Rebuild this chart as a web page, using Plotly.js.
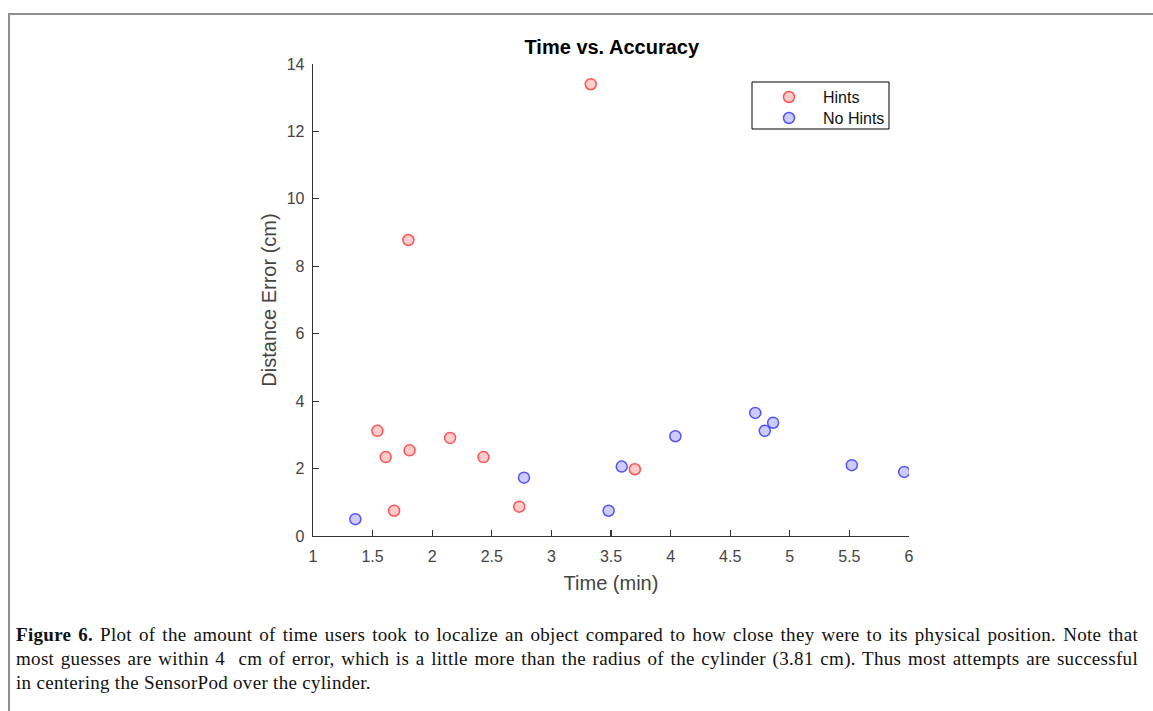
<!DOCTYPE html>
<html>
<head>
<meta charset="utf-8">
<script src="https://cdn.plot.ly/plotly-3.0.1.min.js"></script>
<style>
  html, body { margin: 0; padding: 0; background: #fff; width: 1153px; height: 711px; overflow: hidden; }
  #frame { position: absolute; left: 8px; top: 13px; width: 1200px; height: 800px;
           border-top: 2px solid #8f8f8f; border-left: 2px solid #8f8f8f; box-sizing: border-box; }
  #chart { position: absolute; left: 0; top: 0; width: 1153px; height: 711px; }
  #caption { position: absolute; left: 16px; top: 623px; width: 1122px;
             font-family: "Liberation Serif", "Times New Roman", serif; font-size: 19px; letter-spacing: 0.3px; color: #111; line-height: 24px; }
  #caption .j { text-align: justify; text-align-last: justify; white-space: nowrap; }
  #caption .l { text-align: left; white-space: nowrap; }
</style>
</head>
<body>
<div id="frame"></div>
<div id="chart"></div>
<div id="caption">
  <div class="j"><b>Figure 6.</b> Plot of the amount of time users took to localize an object compared to how close they were to its physical position. Note that</div>
  <div class="j">most guesses are within 4&nbsp; cm of error, which is a little more than the radius of the cylinder (3.81 cm). Thus most attempts are successful</div>
  <div class="l">in centering the SensorPod over the cylinder.</div>
</div>
<script>
// Data
const seriesNames = ["Hints", "No Hints"];
const hintsTime  = [1.54, 1.61, 1.68, 1.81, 1.80, 2.15, 2.43, 2.73, 3.33, 3.70];
const hintsError = [3.12, 2.34, 0.75, 2.54, 8.78, 2.91, 2.34, 0.87, 13.40, 1.98];
const noHintsTime  = [1.355, 2.77, 3.48, 3.59, 4.04, 4.71, 4.79, 4.86, 5.52, 5.96];
const noHintsError = [0.50, 1.73, 0.75, 2.06, 2.96, 3.65, 3.12, 3.36, 2.10, 1.90];
const xTicks = [1, 1.5, 2, 2.5, 3, 3.5, 4, 4.5, 5, 5.5, 6];
const xTickLabels = ["1", "1.5", "2", "2.5", "3", "3.5", "4", "4.5", "5", "5.5", "6"];
const yTicks = [0, 2, 4, 6, 8, 10, 12, 14];

const FONT = "Liberation Sans, Arial, sans-serif";
const styles = [
  { fill: "#ffcccc", edge: "#ff5252" },
  { fill: "#ccccff", edge: "#5252ff" }
];
const traces = [
  { type: "scatter", mode: "markers", name: seriesNames[0], x: hintsTime, y: hintsError, showlegend: false,
    marker: { symbol: "circle", size: 11, color: styles[0].fill, line: { color: styles[0].edge, width: 1.5 } } },
  { type: "scatter", mode: "markers", name: seriesNames[1], x: noHintsTime, y: noHintsError, showlegend: false,
    marker: { symbol: "circle", size: 11, color: styles[1].fill, line: { color: styles[1].edge, width: 1.5 } } }
];

// plot area in pixels (for the hand-built legend box)
const M = { l: 313, r: 244, t: 64, b: 175 };
const W = 1153, H = 711;
const PW = W - M.l - M.r, PH = H - M.t - M.b;
const px = v => (v - M.l) / PW;
const py = v => (H - M.b - v) / PH;

const legendShapes = [
  { type: "rect", xref: "paper", yref: "paper", x0: px(752), x1: px(889), y0: py(129), y1: py(82),
    line: { color: "#000", width: 1 }, fillcolor: "#fff", layer: "above" }
];
const legendAnn = [];
const rowY = [97, 118];
seriesNames.forEach((name, i) => {
  legendShapes.push({ type: "circle", xref: "paper", yref: "paper",
    x0: px(789 - 5.5), x1: px(789 + 5.5), y0: py(rowY[i] + 5.5), y1: py(rowY[i] - 5.5),
    fillcolor: styles[i].fill, line: { color: styles[i].edge, width: 1.5 }, layer: "above" });
  legendAnn.push({ xref: "paper", yref: "paper", x: px(821), y: py(rowY[i]), xanchor: "left", yanchor: "middle",
    text: name, showarrow: false, font: { family: FONT, size: 16, color: "#111" } });
});

const axisCommon = {
  showline: true, linecolor: "#333", linewidth: 1.3, mirror: false,
  ticks: "inside", ticklen: 6, tickwidth: 1.2, tickcolor: "#333",
  showgrid: false, zeroline: false, automargin: false,
  tickfont: { family: FONT, size: 16, color: "#444" }
};

const layout = {
  width: W, height: H,
  paper_bgcolor: "rgba(0,0,0,0)", plot_bgcolor: "rgba(0,0,0,0)",
  margin: { l: M.l, r: M.r, t: M.t, b: M.b, pad: 0 },
  font: { family: FONT, color: "#444" },
  showlegend: false,
  title: { text: "<b>Time vs. Accuracy</b>", x: 0.5306, xanchor: "center", y: 0.934, yanchor: "middle",
           font: { family: FONT, size: 20, color: "#000" } },
  xaxis: Object.assign({}, axisCommon, {
    range: [1, 6], tickmode: "array", tickvals: xTicks, ticktext: xTickLabels, ticklabelstandoff: 5,
    title: { text: "Time (min)", standoff: 12, font: { family: FONT, size: 20, color: "#444" } }
  }),
  yaxis: Object.assign({}, axisCommon, {
    range: [0, 14], tickmode: "array", tickvals: yTicks, ticklabelstandoff: 4,
    title: { text: "Distance Error (cm)", standoff: 4, font: { family: FONT, size: 20, color: "#444" } }
  }),
  shapes: legendShapes,
  annotations: legendAnn
};

Plotly.newPlot("chart", traces, layout, { displayModeBar: false, staticPlot: true });
</script>
</body>
</html>
